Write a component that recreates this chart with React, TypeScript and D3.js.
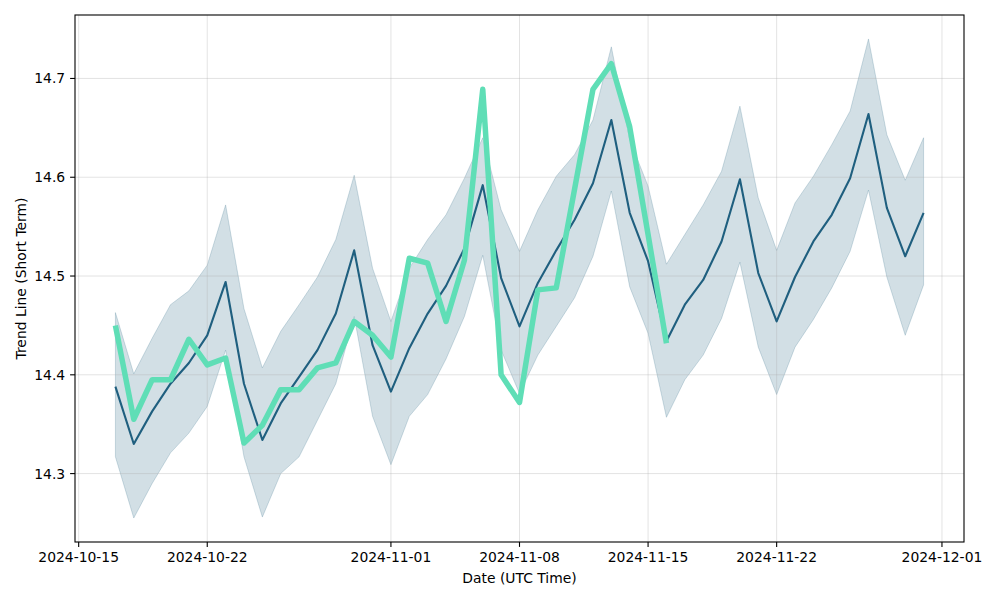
import React from "react";
import * as d3 from "d3";

const dates: string[] = [
  "2024-10-17","2024-10-18","2024-10-19","2024-10-20","2024-10-21","2024-10-22","2024-10-23","2024-10-24","2024-10-25","2024-10-26",
  "2024-10-27","2024-10-28","2024-10-29","2024-10-30","2024-10-31","2024-11-01","2024-11-02","2024-11-03","2024-11-04","2024-11-05",
  "2024-11-06","2024-11-07","2024-11-08","2024-11-09","2024-11-10","2024-11-11","2024-11-12","2024-11-13","2024-11-14","2024-11-15",
  "2024-11-16","2024-11-17","2024-11-18","2024-11-19","2024-11-20","2024-11-21","2024-11-22","2024-11-23","2024-11-24","2024-11-25",
  "2024-11-26","2024-11-27","2024-11-28","2024-11-29","2024-11-30",
];

const trend: number[] = [
  14.388, 14.330, 14.363, 14.391, 14.412, 14.440, 14.494, 14.391, 14.334, 14.371,
  14.398, 14.425, 14.462, 14.526, 14.430, 14.383, 14.427, 14.462, 14.490, 14.528,
  14.592, 14.498, 14.449, 14.493, 14.526, 14.557, 14.594, 14.658, 14.564, 14.515,
  14.434, 14.471, 14.496, 14.535, 14.598, 14.503, 14.454, 14.499, 14.535, 14.562,
  14.599, 14.664, 14.569, 14.520, 14.564,
];

const upper: number[] = [
  14.463, 14.401, 14.437, 14.471, 14.485, 14.511, 14.572, 14.467, 14.407, 14.444,
  14.471, 14.499, 14.537, 14.602, 14.508, 14.454, 14.508, 14.537, 14.562, 14.599,
  14.640, 14.567, 14.525, 14.567, 14.601, 14.623, 14.658, 14.732, 14.638, 14.591,
  14.512, 14.542, 14.572, 14.606, 14.672, 14.579, 14.526, 14.574, 14.601, 14.633,
  14.667, 14.740, 14.643, 14.597, 14.640,
];

const lower: number[] = [
  14.317, 14.255, 14.290, 14.321, 14.341, 14.368, 14.425, 14.317, 14.256, 14.300,
  14.317, 14.354, 14.391, 14.459, 14.358, 14.309, 14.358, 14.380, 14.416, 14.459,
  14.521, 14.425, 14.381, 14.420, 14.449, 14.478, 14.520, 14.586, 14.489, 14.442,
  14.357, 14.395, 14.420, 14.457, 14.514, 14.428, 14.380, 14.428, 14.456, 14.488,
  14.525, 14.587, 14.499, 14.440, 14.491,
];

const actual: number[] = [
  14.450, 14.355, 14.395, 14.395, 14.436, 14.410, 14.417, 14.331, 14.349, 14.385,
  14.385, 14.407, 14.412, 14.454, 14.440, 14.418, 14.518, 14.513, 14.454, 14.516,
  14.689, 14.400, 14.372, 14.486, 14.488, 14.588, 14.689, 14.715, 14.651, 14.542,
  14.432,
];

const xTickLabels: string[] = ["2024-10-15", "2024-10-22", "2024-11-01", "2024-11-08", "2024-11-15", "2024-11-22", "2024-12-01"];
const yTickValues: number[] = [14.3, 14.4, 14.5, 14.6, 14.7];

const parse = (s: string) => {
  const [y, m, d] = s.split("-").map(Number);
  return new Date(Date.UTC(y, m - 1, d));
};

export default function App() {
  const W = 1000, H = 600;
  const left = 75, right = 964, top = 15, bottom = 542;
  const font = "DejaVu Sans, sans-serif";
  const fs = 13.9;

  const xs = dates.map(parse);
  const t0 = +xs[0], t1 = +xs[xs.length - 1];
  const xm = (t1 - t0) * 0.05;
  const x = d3.scaleUtc().domain([new Date(t0 - xm), new Date(t1 + xm)]).range([left, right]);

  const yMin = Math.min(d3.min(lower)!, d3.min(actual)!);
  const yMax = Math.max(d3.max(upper)!, d3.max(actual)!);
  const ym = (yMax - yMin) * 0.05;
  const y = d3.scaleLinear().domain([yMin - ym, yMax + ym]).range([bottom, top]);

  const area = d3.area<number>()
    .x((_, i) => x(xs[i]))
    .y0((_, i) => y(lower[i]))
    .y1((_, i) => y(upper[i]));
  const line = d3.line<number>().x((_, i) => x(xs[i])).y((d) => y(d));

  const bandColor = "rgba(31,95,127,0.2)";
  const xTicks = xTickLabels.map(parse);

  return (
    <svg width={W} height={H} style={{ display: "block", position: "absolute", left: 0, top: 0 }} fontFamily={font}>
      <rect x={0} y={0} width={W} height={H} fill="#fff" />
      <path d={area(trend)!} fill={bandColor} stroke={bandColor} strokeWidth={1} />
      <g stroke="#b0b0b0" strokeOpacity={0.35} strokeWidth={1}>
        {xTicks.map((t, i) => (
          <line key={"gx" + i} x1={x(t)} x2={x(t)} y1={top} y2={bottom} />
        ))}
        {yTickValues.map((v, i) => (
          <line key={"gy" + i} x1={left} x2={right} y1={y(v)} y2={y(v)} />
        ))}
      </g>
      <path d={line(trend)!} fill="none" stroke="#1f5f7f" strokeWidth={2.1} strokeLinejoin="round" />
      <path d={line(actual)!} fill="none" stroke="#5fdeb6" strokeWidth={5.5} strokeLinejoin="round" />
      <rect x={left} y={top} width={right - left} height={bottom - top} fill="none" stroke="#000" strokeWidth={1.1} />
      {xTicks.map((t, i) => (
        <g key={"xt" + i}>
          <line x1={x(t)} x2={x(t)} y1={bottom} y2={bottom + 4.9} stroke="#000" strokeWidth={1.1} />
          <text x={x(t)} y={bottom + 9.8} dy="0.76em" textAnchor="middle" fontSize={fs} fill="#000">{xTickLabels[i]}</text>
        </g>
      ))}
      {yTickValues.map((v, i) => (
        <g key={"yt" + i}>
          <line x1={left - 4.9} x2={left} y1={y(v)} y2={y(v)} stroke="#000" strokeWidth={1.1} />
          <text x={left - 9.8} y={y(v)} dy="0.36em" textAnchor="end" fontSize={fs} fill="#000">{d3.format(".1f")(v)}</text>
        </g>
      ))}
      <text x={(left + right) / 2} y={583} textAnchor="middle" fontSize={fs} fill="#000">Date (UTC Time)</text>
      <text transform={`translate(26,${(top + bottom) / 2}) rotate(-90)`} textAnchor="middle" fontSize={fs} fill="#000">Trend Line (Short Term)</text>
    </svg>
  );
}
